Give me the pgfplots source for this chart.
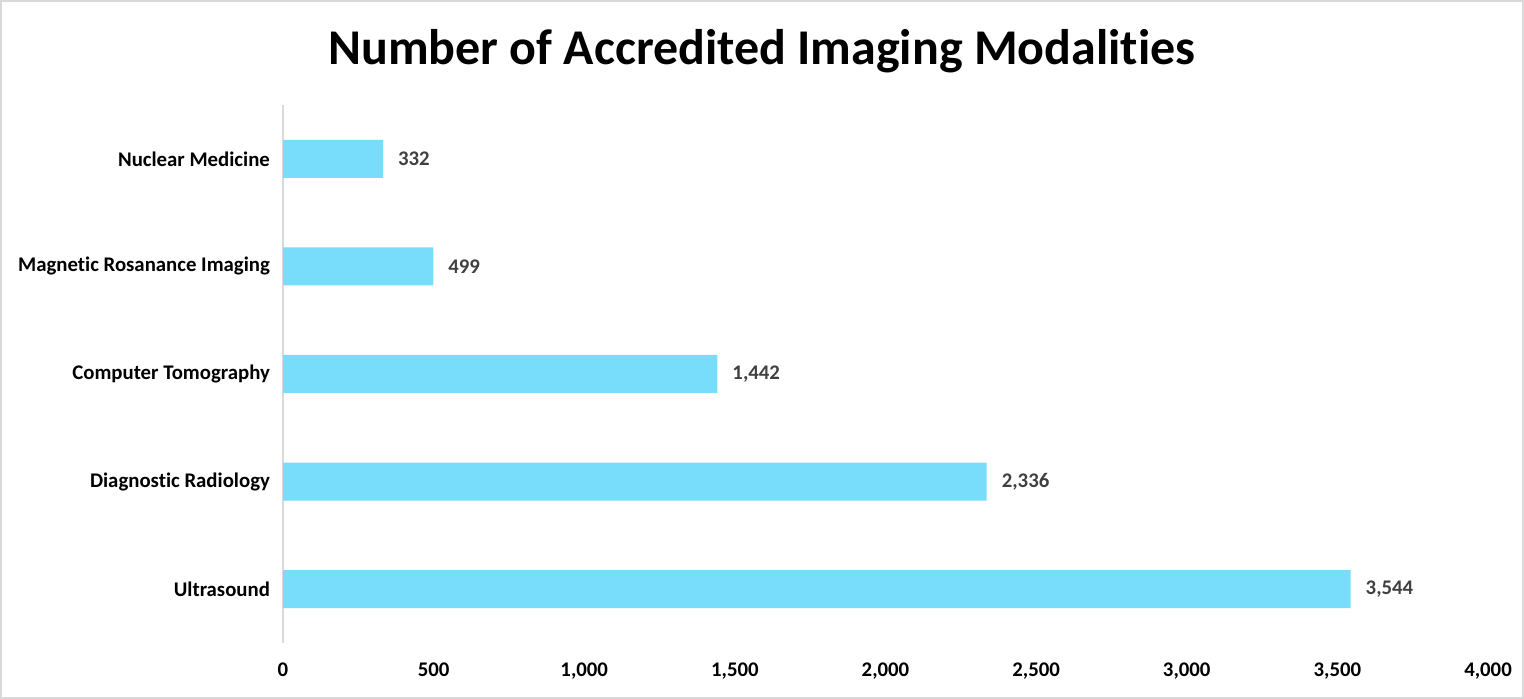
\documentclass[border=0pt]{standalone}
\usepackage{pgfplots}
\pgfplotsset{compat=1.18}
\usepackage{fontspec}
\setmainfont{Carlito}[Ligatures=NoCommon]
\definecolor{barblue}{HTML}{78DDFB}
\definecolor{framegray}{HTML}{D9D9D9}
\definecolor{valgray}{HTML}{404040}
\begin{document}
\begin{tikzpicture}
\draw[framegray, line width=1pt] (0.5pt,0.5pt) rectangle (761.5pt,349pt);
\node[font=\fontsize{25}{29}\selectfont\bfseries] at (381pt,324pt) {Number of Accredited Imaging Modalities};
\begin{axis}[
  at={(141.5pt,28pt)}, anchor=south west,
  scale only axis, width=602.5pt, height=269pt,
  xbar, bar width=19pt,
  xmin=0, xmax=4000, ymin=-0.5, ymax=4.5,
  enlarge y limits=false,
  axis x line=bottom, axis y line=left,
  x axis line style={draw=none},
  y axis line style={draw=framegray, line width=1.2pt, -},
  xtick={0,500,...,4000},
  ytick={0,1,2,3,4},
  yticklabels={Ultrasound,Diagnostic Radiology,Computer Tomography,Magnetic Rosanance Imaging,Nuclear Medicine},
  major tick length=0pt,
  tick style={draw=none},
  /pgf/number format/assume math mode=true,
  /pgf/number format/1000 sep={,},
  ticklabel style={font=\fontsize{10.4}{12}\selectfont\bfseries, text=black},
  xticklabel style={yshift=-6.5pt},
  yticklabel style={xshift=-3pt},
  nodes near coords,
  nodes near coords style={font=\fontsize{10.4}{12}\selectfont\bfseries, text=valgray, anchor=west, xshift=4pt,
    /pgf/number format/assume math mode=true, /pgf/number format/1000 sep={,}},
]
\addplot[fill=barblue, draw=none] coordinates {(3544,0) (2336,1) (1442,2) (499,3) (332,4)};
\end{axis}
\end{tikzpicture}
\end{document}
